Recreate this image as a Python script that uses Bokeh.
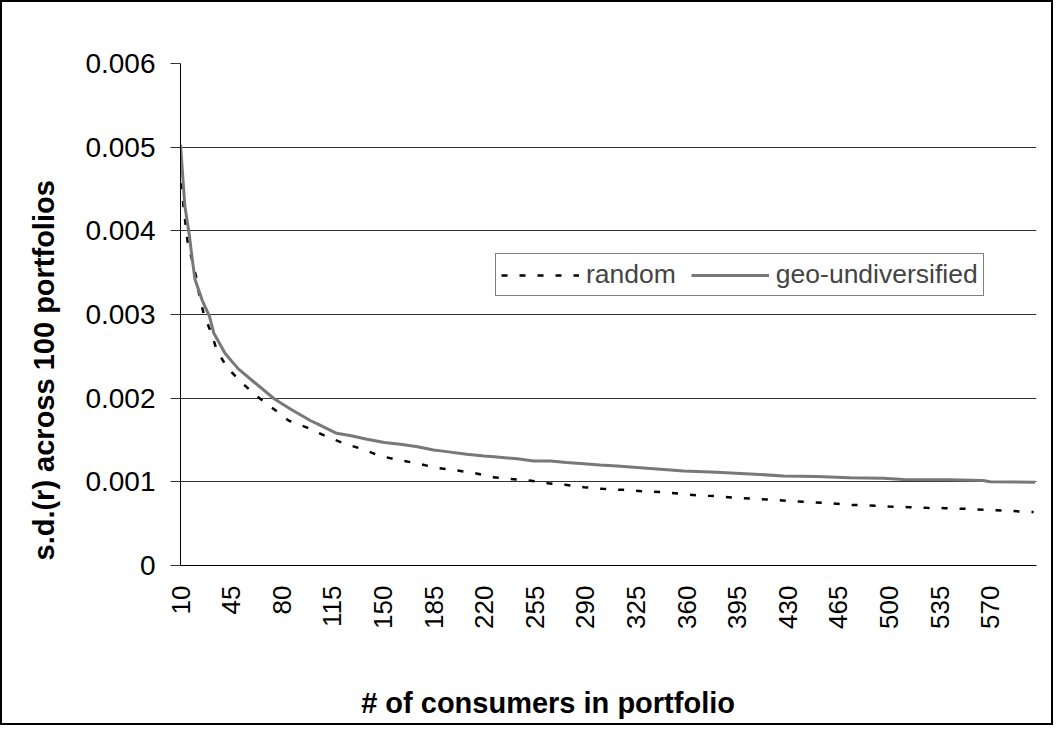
import math
from bokeh.plotting import figure
from bokeh.models import (FixedTicker, CustomJSTickFormatter, Title, Legend, LegendItem, Range1d)
from bokeh.embed import file_html
from bokeh.resources import INLINE

# ---- data ----
geo_x = [10, 13, 16, 18, 20, 25, 30, 33, 41, 50, 61, 75, 86, 100, 105, 118, 128, 139, 151, 162,
         174, 185, 190, 208, 220, 227, 243, 254, 266, 277, 289, 300, 312, 335, 358, 381, 404, 427,
         450, 473, 496, 510, 542, 565, 570, 601]
geo_y = [0.00503, 0.00430, 0.00396, 0.00368, 0.00342, 0.00317, 0.00298, 0.00278, 0.00253, 0.00235,
         0.00219, 0.00199, 0.00187, 0.00173, 0.00169, 0.00158, 0.00155, 0.00151, 0.00147, 0.00145,
         0.00142, 0.00138, 0.00137, 0.00133, 0.00131, 0.00130, 0.001275, 0.00125, 0.00125, 0.00123,
         0.001215, 0.00120, 0.00119, 0.00116, 0.00113, 0.001115, 0.001095, 0.00107, 0.001063,
         0.001048, 0.001043, 0.001028, 0.001024, 0.001016, 0.00100, 0.000995]

rand_x = [10, 11, 12, 15, 21, 23, 26, 31, 35, 42, 52, 63, 73, 85, 98, 110, 123, 136, 148, 161,
          174, 186, 199, 212, 226, 238, 251, 264, 276, 289, 302, 316, 329, 343, 356, 369, 381, 395,
          408, 420, 434, 447, 460, 473, 486, 500, 513, 526, 539, 553, 566, 578, 592, 600]
rand_y = [0.00500, 0.00452, 0.00430, 0.00386, 0.00344, 0.00323, 0.00301, 0.00279, 0.00258, 0.00237,
          0.00219, 0.00202, 0.00189, 0.00173, 0.001645, 0.00155, 0.00146, 0.00139, 0.00131, 0.00126,
          0.00122, 0.00117, 0.00114, 0.00111, 0.001055, 0.001035, 0.001016, 0.000983, 0.000964,
          0.000936, 0.000916, 0.000904, 0.000888, 0.000876, 0.000857, 0.000836, 0.000828, 0.000809,
          0.000797, 0.000785, 0.000768, 0.000756, 0.000744, 0.000725, 0.000717, 0.000705, 0.000697,
          0.000689, 0.000685, 0.000677, 0.000665, 0.000657, 0.000645, 0.000640]

x_ticks = [10, 45, 80, 115, 150, 185, 220, 255, 290, 325, 360, 395, 430, 465, 500, 535, 570]
y_ticks = [0, 0.001, 0.002, 0.003, 0.004, 0.005, 0.006]
series_names = ["random", "geo-undiversified"]
x_title = "# of consumers in portfolio"
y_title = "s.d.(r) across 100 portfolios"

FONT = "Liberation Sans"

p = figure(width=1053, height=725, output_backend="svg", toolbar_location=None,
           x_range=Range1d(10, 602), y_range=Range1d(0, 0.006),
           min_border_left=178, min_border_top=61, min_border_right=19, min_border_bottom=162)
p.styles = {"border": "2px solid black"}
p.outline_line_color = None
p.background_fill_color = "white"
p.border_fill_color = "white"

# axes
p.xaxis.ticker = FixedTicker(ticks=x_ticks)
p.xaxis.major_label_orientation = math.pi / 2
p.xaxis.major_tick_out = 0
p.xaxis.major_tick_in = 0
p.xaxis.minor_tick_out = 0
p.xaxis.minor_tick_in = 0
p.xaxis.major_label_standoff = 20
p.xaxis.axis_line_color = "black"
p.xaxis.major_label_text_font_size = "26px"
# x title: centred on the frame, padded on the right so it sits where the reference has it
p.xaxis.axis_label = x_title + "\u00a0" * 15
p.xaxis.axis_label_standoff = 55
p.xaxis.axis_label_text_font = FONT
p.xaxis.axis_label_text_font_size = "29px"
p.xaxis.axis_label_text_font_style = "bold"
p.xaxis.axis_label_text_color = "black"

p.yaxis.ticker = FixedTicker(ticks=y_ticks)
p.yaxis.formatter = CustomJSTickFormatter(code="return tick == 0 ? '0' : tick.toFixed(3);")
p.yaxis.major_tick_out = 10
p.yaxis.major_tick_in = 0
p.yaxis.minor_tick_out = 0
p.yaxis.minor_tick_in = 0
p.yaxis.major_tick_line_color = "#333333"
p.yaxis.major_label_standoff = 15
p.yaxis.axis_line_color = "black"
p.yaxis.major_label_text_font_size = "28px"

for ax in (p.xaxis, p.yaxis):
    ax.major_label_text_font = FONT
    ax.major_label_text_color = "black"

p.xgrid.visible = False
p.ygrid.ticker = FixedTicker(ticks=y_ticks)
p.ygrid.grid_line_color = "#333333"
p.ygrid.grid_line_width = 1

# series
r_rand = p.line(rand_x, rand_y, line_color="black", line_width=2.5, line_dash="6 12")
r_geo = p.line(geo_x, geo_y, line_color="#787878", line_width=3)

legend = Legend(items=[LegendItem(label=series_names[0], renderers=[r_rand]),
                       LegendItem(label=series_names[1], renderers=[r_geo])],
                orientation="horizontal", location=(315, 269))
legend.label_text_font = FONT
legend.label_text_font_size = "26.5px"
legend.glyph_width = 78
legend.label_standoff = 7
legend.spacing = 15
legend.padding = 5
legend.margin = 0
legend.border_line_color = "black"
legend.border_line_width = 1
legend.background_fill_alpha = 1
p.add_layout(legend, "center")

# y title
yt = Title(text=y_title, align="left", offset=5, vertical_align="bottom", standoff=46,
           text_font=FONT, text_font_size="29px", text_font_style="bold", text_color="black")
p.add_layout(yt, "left")

open("out.html", "w").write(file_html(p, INLINE))
